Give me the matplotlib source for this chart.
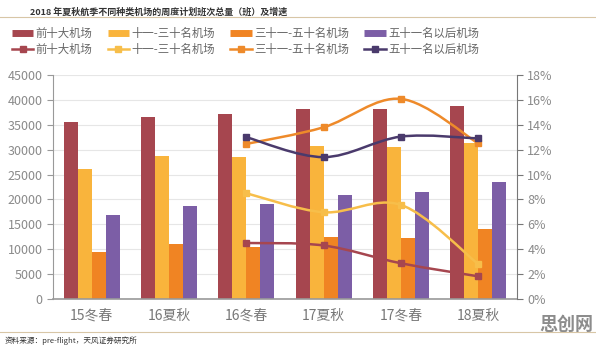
import numpy as np
import matplotlib.pyplot as plt
from matplotlib.path import Path
from matplotlib.patches import PathPatch
from matplotlib.lines import Line2D

plt.rcParams['font.family'] = ['Noto Sans CJK SC', 'DejaVu Sans']

categories = ['15冬春', '16夏秋', '16冬春', '17夏秋', '17冬春', '18夏秋']
series_names = ['前十大机场', '十一-三十名机场', '三十一-五十名机场', '五十一名以后机场']

# weekly planned flights
top10 = [35600, 36600, 37150, 38100, 38200, 38800]
rank11_30 = [26200, 28800, 28450, 30700, 30600, 31300]
rank31_50 = [9400, 11000, 10500, 12450, 12200, 14050]
rank51_up = [16900, 18700, 19000, 20900, 21400, 23500]

# growth (%), from 16冬春 onward
growth_x = [2, 3, 4, 5]
top10_g = [4.5, 4.3, 2.87, 1.82]
rank11_30_g = [8.5, 6.97, 7.56, 2.8]
rank31_50_g = [12.46, 13.8, 16.08, 12.5]
rank51_up_g = [13.0, 11.4, 13.05, 12.9]

bar_colors = ['#A6464F', '#F9B43C', '#F08423', '#7C5EA6']
line_colors = ['#A6464F', '#F7BE4A', '#EE8A2A', '#4A3A6C']


def smooth_path(xs, ys):
    # bezier through the points, like excel's smoothed line
    pts = np.column_stack([xs, ys]).astype(float)
    n = len(pts)
    verts = [pts[0]]
    codes = [Path.MOVETO]
    for i in range(n - 1):
        p0 = pts[i - 1] if i > 0 else pts[i]
        p1 = pts[i]
        p2 = pts[i + 1]
        p3 = pts[i + 2] if i + 2 < n else pts[i + 1]
        c1 = p1 + (p2 - p0) / 6
        c2 = p2 - (p3 - p1) / 6
        verts += [c1, c2, p2]
        codes += [Path.CURVE4] * 3
    return Path(verts, codes)


fig = plt.figure(figsize=(5.96, 3.48), dpi=100)
ax = fig.add_axes([0.0889, 0.1408, 0.7785, 0.6437])
ax2 = ax.twinx()

x = np.arange(len(categories))
w = 0.181
bar_data = [top10, rank11_30, rank31_50, rank51_up]
for i, vals in enumerate(bar_data):
    ax.bar(x + (i - 1.5) * w, vals, w, color=bar_colors[i], zorder=2)

ax.set_xlim(-0.5, 5.5)
ax.set_ylim(0, 45000)
ax.set_yticks(range(0, 45001, 5000))
ax.grid(axis='y', color='#E6E6E6', linewidth=0.8, zorder=0)
ax.set_axisbelow(True)
ax.set_xticks(x)
ax.set_xticklabels(categories, fontsize=10, color='#777777')
ax.tick_params(axis='x', length=0, pad=7)
ax.tick_params(axis='y', labelsize=9, labelcolor='#8A8A8A', color='#999999', length=4)
for s in ['top', 'right']:
    ax.spines[s].set_visible(False)
ax.spines['left'].set_color('#999999')
ax.spines['bottom'].set_color('#999999')
ax.spines['bottom'].set_linewidth(1.2)

line_data = [top10_g, rank11_30_g, rank31_50_g, rank51_up_g]
for i, vals in enumerate(line_data):
    ax2.add_patch(PathPatch(smooth_path(growth_x, vals), fill=False,
                            edgecolor=line_colors[i], linewidth=1.8, zorder=3))
    ax2.plot(growth_x, vals, linestyle='none', marker='s', markersize=5,
             color=line_colors[i], zorder=4)

ax2.set_ylim(0, 18)
ax2.set_yticks(range(0, 19, 2))
ax2.set_yticklabels([f'{v}%' for v in range(0, 19, 2)])
ax2.tick_params(axis='y', labelsize=9, labelcolor='#8A8A8A', color='#777777', length=4)
for s in ['top', 'left', 'bottom']:
    ax2.spines[s].set_visible(False)
ax2.spines['right'].set_color('#777777')

handles = []
labels = []
for i, name in enumerate(series_names):
    handles.append(Line2D([0], [0], color=bar_colors[i], linewidth=5, solid_capstyle='butt'))
    labels.append(name)
    handles.append(Line2D([0], [0], color=line_colors[i], linewidth=1.8,
                          marker='s', markersize=4))
    labels.append(name)
fig.legend(handles, labels, ncol=4, loc='lower left', mode='expand',
           bbox_to_anchor=(0.012, 0.83, 0.80, 0.12), frameon=False,
           fontsize=8.2, labelcolor='#666666', handlelength=1.9, handletextpad=0.2,
           borderaxespad=0, labelspacing=0.4)

fig.text(0.05, 0.978, '2018 年夏秋航季不同种类机场的周度计划班次总量（班）及增速',
         fontsize=6.5, fontweight='bold', color='#333333', va='top')
fig.add_artist(Line2D([0, 1], [0.951, 0.951], color='#D8C6A6', linewidth=0.8))
fig.add_artist(Line2D([0, 1], [0.046, 0.046], color='#D8C6A6', linewidth=0.8))
fig.text(0.008, 0.022, '资料来源：pre-flight，天风证券研究所', fontsize=5.5,
         color='#333333', va='center')
fig.text(0.995, 0.068, '思创网', fontsize=13, fontweight='bold', color='#8C8C8C',
         ha='right', va='center')

fig.savefig('out.png', dpi=100)
